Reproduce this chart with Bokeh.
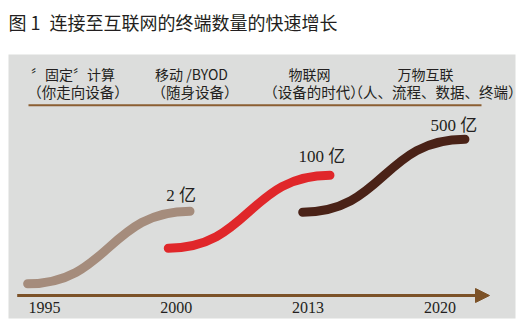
from bokeh.plotting import figure
from bokeh.models import Range1d, ColumnDataSource, Arrow, NormalHead, BoxAnnotation
from bokeh.core.properties import value
from bokeh.embed import file_html
from bokeh.resources import INLINE

# ---------------- data ----------------
title_text = "图 1\u2002连接至互联网的终端数量的快速增长"
years = ["1995", "2000", "2013", "2020"]
era_names = ["〞固定〞计算", "移动 /BYOD", "物联网", "万物互联"]
era_notes = ["（你走向设备）", "（随身设备）", "（设备的时代）", "（人、流程、数据、终端）"]
count_labels = ["2 亿", "100 亿", "500 亿"]
# growth waves: start / end on the time axis (year index) and on an abstract level scale
wave_x_start = [-0.128, 0.939, 1.959]
wave_x_end = [1.104, 2.166, 3.190]
wave_y_start = [1.17, 4.73, 8.33]
wave_y_end = [8.43, 12.03, 15.63]

# ---------------- styles / layout ----------------
wave_colors = ["#a58c7c", "#e0272a", "#4a2217"]
label_dx = [-9, -8, -11]
label_dy = [-16, -19, -14]
cjk = "Noto Sans CJK SC"
serif = "Liberation Serif"
ink = "#231f20"
brown = "#7c5228"
unit = 131.8   # px per year step
W, H = 532, 333
x0_px, y0_px, yunit = 44, 295, 10   # pixel position of the first year on the axis


def xd(px):
    return (px - x0_px) / unit


def yd(py):
    return (y0_px - py) / yunit


p = figure(width=W, height=H,
           x_range=Range1d(xd(0), xd(W)), y_range=Range1d(yd(H), yd(0)),
           output_backend="svg", toolbar_location=None,
           x_axis_location=None, y_axis_location=None,
           min_border=0, background_fill_color="white", border_fill_color="white",
           outline_line_color=None)
p.grid.visible = False

# grey panel
p.add_layout(BoxAnnotation(left=xd(8), right=xd(515), top=yd(54), bottom=yd(318),
                           fill_color="#dcdddc", fill_alpha=1.0, line_color=None,
                           level="underlay"))

# chart title
title_src = ColumnDataSource(dict(x=[xd(8)], y=[yd(21.5)], t=[title_text]))
p.text(x="x", y="y", text="t", source=title_src, text_align="left", text_baseline="middle",
       text_font=value(cjk), text_font_size="18px", text_color=ink)

# S-shaped growth waves as cubic Beziers
k = 0.5
src = ColumnDataSource(dict(
    x0=wave_x_start, y0=wave_y_start, x1=wave_x_end, y1=wave_y_end,
    cx0=[a + k * (b - a) for a, b in zip(wave_x_start, wave_x_end)], cy0=wave_y_start,
    cx1=[b - k * (b - a) for a, b in zip(wave_x_start, wave_x_end)], cy1=wave_y_end,
    color=wave_colors, label=count_labels, dx=label_dx, dy=label_dy))
p.bezier(x0="x0", y0="y0", x1="x1", y1="y1", cx0="cx0", cy0="cy0", cx1="cx1", cy1="cy1",
         line_color="color", line_width=9, line_cap="round", source=src)
p.text(x="x1", y="y1", text="label", source=src, text_align="center", text_baseline="middle",
       x_offset="dx", y_offset="dy", text_font=value(serif + ", " + cjk), text_font_size="17px",
       text_color=ink)

# time axis arrow
p.add_layout(Arrow(x_start=xd(16.7), y_start=0, x_end=xd(489), y_end=0, line_color=brown,
                   line_width=3,
                   end=NormalHead(size=14, fill_color=brown, line_color=brown, line_width=1)))
year_src = ColumnDataSource(dict(x=list(range(len(years))), y=[yd(306.7)] * len(years), t=years))
p.text(x="x", y="y", text="t", source=year_src, text_align="center", text_baseline="middle",
       text_font=value(serif), text_font_size="16px", text_color=ink)

# era headers
name_src = ColumnDataSource(dict(x=[xd(72.5), xd(191), xd(309), xd(425)], y=[yd(73)] * 4,
                                 t=era_names))
note_src = ColumnDataSource(dict(x=[xd(77.5), xd(194.5), xd(313.5), xd(435)], y=[yd(91)] * 4,
                                 t=era_notes))
p.text(x="x", y="y", text="t", source=name_src, text_align="center", text_baseline="middle",
       text_font=value(cjk), text_font_size="14px", text_color=ink)
p.text(x="x", y="y", text="t", source=note_src, text_align="center", text_baseline="middle",
       text_font=value(cjk), text_font_size="14.5px", text_color=ink)
p.segment(x0=[xd(28)], y0=[yd(104.7)], x1=[xd(481)], y1=[yd(104.7)], line_color="#8b5e32",
          line_width=2)

open("out.html", "w").write(file_html(p, INLINE))
